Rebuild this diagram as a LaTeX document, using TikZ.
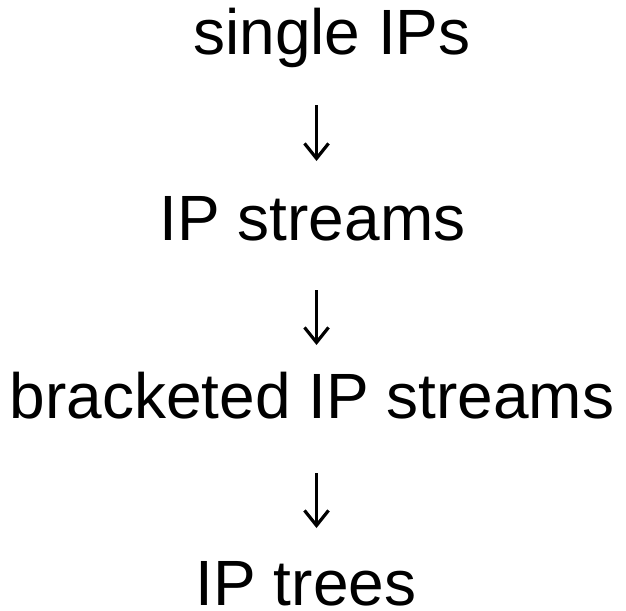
\documentclass[tikz,border=0pt]{standalone}
\usepackage{fontspec}
\setmainfont{Liberation Sans}
\usetikzlibrary{arrows.meta}
\begin{document}
\begin{tikzpicture}[x=1pt,y=-1pt,
  stage/.style={inner sep=0pt,anchor=base,font=\fontsize{64}{64}\selectfont},
  flowarrow/.style={line width=2.3pt,-{Straight Barb[length=15pt,width=24pt,line width=3.2pt]}}]
\useasboundingbox (0,0) rectangle (626,610);
% the four stages
\node[stage] (single) at (332,55) {single IPs};
\node[stage] (streams) at (312.5,240) {IP streams};
\node[stage] (bracket) at (312,418) {bracketed IP streams};
\node[stage] (trees) at (306,605) {IP trees};
% arrow ends between the stages
\coordinate (a1s) at (316.5,105);
\coordinate (a1e) at (316.5,161);
\coordinate (a2s) at (316.5,290);
\coordinate (a2e) at (316.5,345);
\coordinate (a3s) at (316.5,473);
\coordinate (a3e) at (316.5,528);
\draw[flowarrow] (a1s) -- (a1e);
\draw[flowarrow] (a2s) -- (a2e);
\draw[flowarrow] (a3s) -- (a3e);
\end{tikzpicture}
\end{document}
